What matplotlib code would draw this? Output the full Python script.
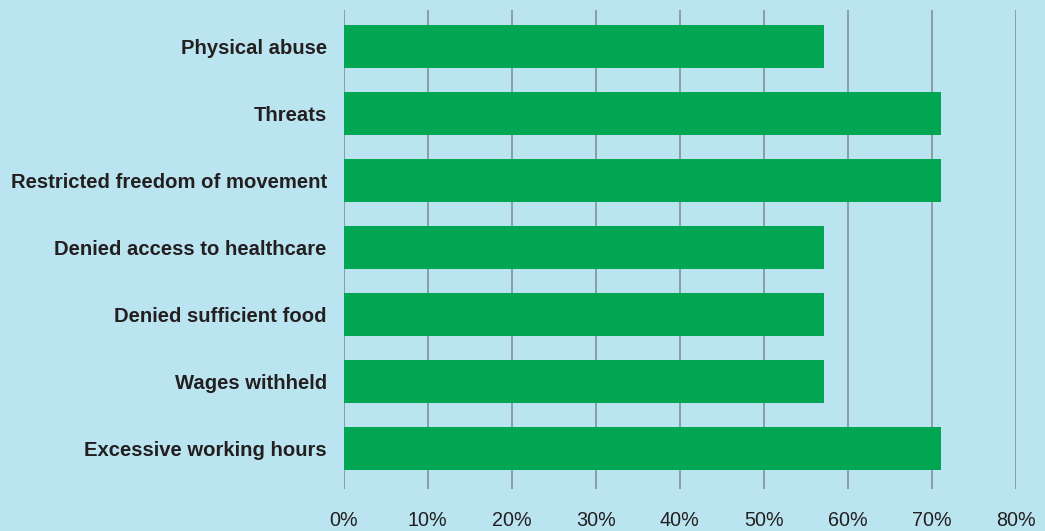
import matplotlib
matplotlib.use("Agg")
import matplotlib.pyplot as plt

categories = [
    "Physical abuse",
    "Threats",
    "Restricted freedom of movement",
    "Denied access to healthcare",
    "Denied sufficient food",
    "Wages withheld",
    "Excessive working hours",
]
values = [57.2, 71.1, 71.1, 57.2, 57.2, 57.2, 71.1]
ticks = [0, 10, 20, 30, 40, 50, 60, 70, 80]
tick_labels = ["0%", "10%", "20%", "30%", "40%", "50%", "60%", "70%", "80%"]

bg = "#bae4f0"
plt.rcParams["font.family"] = ["Liberation Sans", "DejaVu Sans"]

fig = plt.figure(figsize=(10.45, 5.31), dpi=100, facecolor=bg)
ax = fig.add_axes([343.5 / 1045, 1 - 489 / 531, (1016 - 343.5) / 1045, (489 - 10) / 531])
ax.set_facecolor(bg)

ax.barh(range(len(categories)), values, height=0.64, color="#00a651", zorder=2)

ax.set_xlim(0, 80)
ax.set_ylim(6.6, -0.55)
ax.set_xticks(ticks)
ax.set_xticklabels(tick_labels, fontsize=14.2, color="#231f20")
ax.set_yticks(range(len(categories)))
ax.set_yticklabels(categories, fontsize=14.6, fontweight="bold", color="#231f20")
ax.tick_params(axis="both", length=0)
ax.tick_params(axis="x", pad=16)
ax.tick_params(axis="y", pad=12)

for t in ticks:
    ax.axvline(t, color="#7f8a92", linewidth=1.1, zorder=1)

for s in ax.spines.values():
    s.set_visible(False)

fig.savefig("out.png", dpi=100, facecolor=bg)
